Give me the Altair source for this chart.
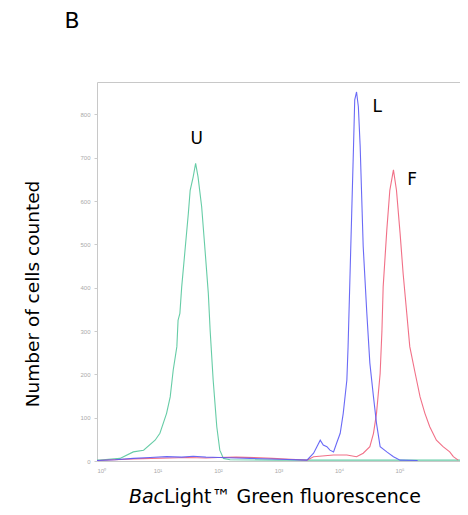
import altair as alt
import pandas as pd

# log10(fluorescence) positions and cell counts
green_x = [0.0, 0.05, 0.38, 0.60, 0.77, 0.96, 1.04, 1.15, 1.21, 1.26, 1.32, 1.34, 1.37, 1.40, 1.45, 1.51, 1.54, 1.59, 1.63, 1.67, 1.73, 1.79, 1.84, 1.87, 1.92, 1.98, 2.03, 2.09, 2.2, 3.0, 4.0, 5.0, 6.0]
green_y = [2, 2, 6, 21, 25, 48, 64, 110, 148, 210, 264, 325, 341, 402, 479, 572, 625, 656, 687, 656, 587, 479, 387, 302, 187, 79, 25, 6, 3, 2, 2, 2, 2]

blue_x = [0.0, 0.3, 0.60, 0.88, 1.15, 1.4, 1.59, 1.8, 2.03, 2.3, 2.53, 3.02, 3.47, 3.58, 3.69, 3.74, 3.80, 3.85, 3.91, 3.96, 4.02, 4.07, 4.13, 4.15, 4.18, 4.21, 4.24, 4.26, 4.29, 4.32, 4.35, 4.40, 4.46, 4.51, 4.57, 4.62, 4.68, 4.79, 4.90, 5.01, 5.3]
blue_y = [1, 3, 6, 8, 10, 9, 11, 9, 8, 7, 6, 4, 2, 18, 48, 37, 33, 25, 21, 41, 64, 110, 187, 264, 418, 572, 726, 834, 852, 818, 726, 495, 341, 226, 148, 87, 33, 21, 10, 2, 1]

red_x = [0.0, 0.3, 0.6, 0.9, 1.2, 1.5, 1.8, 2.0, 2.3, 2.6, 2.9, 3.2, 3.47, 3.58, 3.91, 4.13, 4.29, 4.40, 4.51, 4.57, 4.62, 4.68, 4.71, 4.73, 4.79, 4.84, 4.90, 4.95, 5.01, 5.06, 5.12, 5.17, 5.26, 5.34, 5.42, 5.50, 5.61, 5.72, 5.83, 5.89, 5.97]
red_y = [1, 3, 5, 6, 7, 8, 7, 8, 9, 8, 6, 4, 2, 10, 14, 14, 10, 18, 33, 64, 110, 202, 302, 402, 533, 625, 672, 625, 525, 433, 341, 264, 202, 148, 110, 79, 48, 33, 21, 10, 2]

series_names = ["U", "F", "L"]
series_colors = ["#55c79c", "#f0607a", "#5a5af5"]

label_text = ["U", "L", "F"]
label_x = [1.65, 4.63, 5.21]
label_y = [743, 817, 648]

y_ticks = [0, 100, 200, 300, 400, 500, 600, 700, 800]
x_ticks = [0, 1, 2, 3, 4, 5]

rows = []
for name, xs, ys in [("U", green_x, green_y), ("F", red_x, red_y), ("L", blue_x, blue_y)]:
    for xv, yv in zip(xs, ys):
        rows.append({"s": name, "x": xv, "y": yv})
df = pd.DataFrame(rows)

W, H = 363, 379
xs = alt.Scale(domain=[0, 6], nice=False, zero=False)
ys = alt.Scale(domain=[0, 875], nice=False)

lines = alt.Chart(df).mark_line(strokeWidth=1.1, opacity=0.9).encode(
    x=alt.X("x:Q", scale=xs, axis=alt.Axis(
        values=x_ticks, title=None, domain=False, grid=False,
        ticks=False, labelColor="#aaaaaa", labelFontSize=6, labelPadding=6,
        labelExpr="'10' + ['⁰','¹','²','³','⁴','⁵','⁶'][datum.value]")),
    y=alt.Y("y:Q", scale=ys, axis=alt.Axis(
        values=y_ticks, title=None, domain=False, grid=False,
        tickSize=3, tickColor="#cccccc", labelColor="#aaaaaa", labelFontSize=6, labelPadding=4)),
    color=alt.Color("s:N", scale=alt.Scale(domain=series_names, range=series_colors), legend=None),
    detail="s:N",
)

font = "DejaVu Sans"
labels = alt.Chart(pd.DataFrame({"t": label_text, "x": label_x, "y": label_y})).mark_text(
    fontSize=17, font=font, color="black"
).encode(x=alt.X("x:Q", scale=xs), y=alt.Y("y:Q", scale=ys), text="t:N")

panel = alt.Chart(pd.DataFrame({"t": ["B"]})).mark_text(
    fontSize=22, font=font, color="black", baseline="top"
).encode(x=alt.value(-25), y=alt.value(-71), text="t:N")

ytitle = alt.Chart(pd.DataFrame({"t": ["Number of cells counted"]})).mark_text(
    fontSize=18.5, font=font, color="black", angle=270
).encode(x=alt.value(-64), y=alt.value(212), text="t:N")

xtitle_a = alt.Chart(pd.DataFrame({"t": ["Bac"]})).mark_text(
    fontSize=19, font=font, fontStyle="italic", color="black", align="right"
).encode(x=alt.value(67), y=alt.value(415), text="t:N")

xtitle_b = alt.Chart(pd.DataFrame({"t": ["Light™ Green fluorescence"]})).mark_text(
    fontSize=19, font=font, color="black", align="left"
).encode(x=alt.value(67), y=alt.value(415), text="t:N")

chart = alt.layer(lines, labels, panel, ytitle, xtitle_a, xtitle_b).properties(
    width=W, height=H,
    autosize=alt.AutoSizeParams(type="none"),
    padding={"left": 89, "top": 74, "right": 0, "bottom": 46},
).configure_view(stroke="#c8c8c8", strokeWidth=1)

chart.save("out.html", embed_options={"renderer": "svg", "actions": False})
